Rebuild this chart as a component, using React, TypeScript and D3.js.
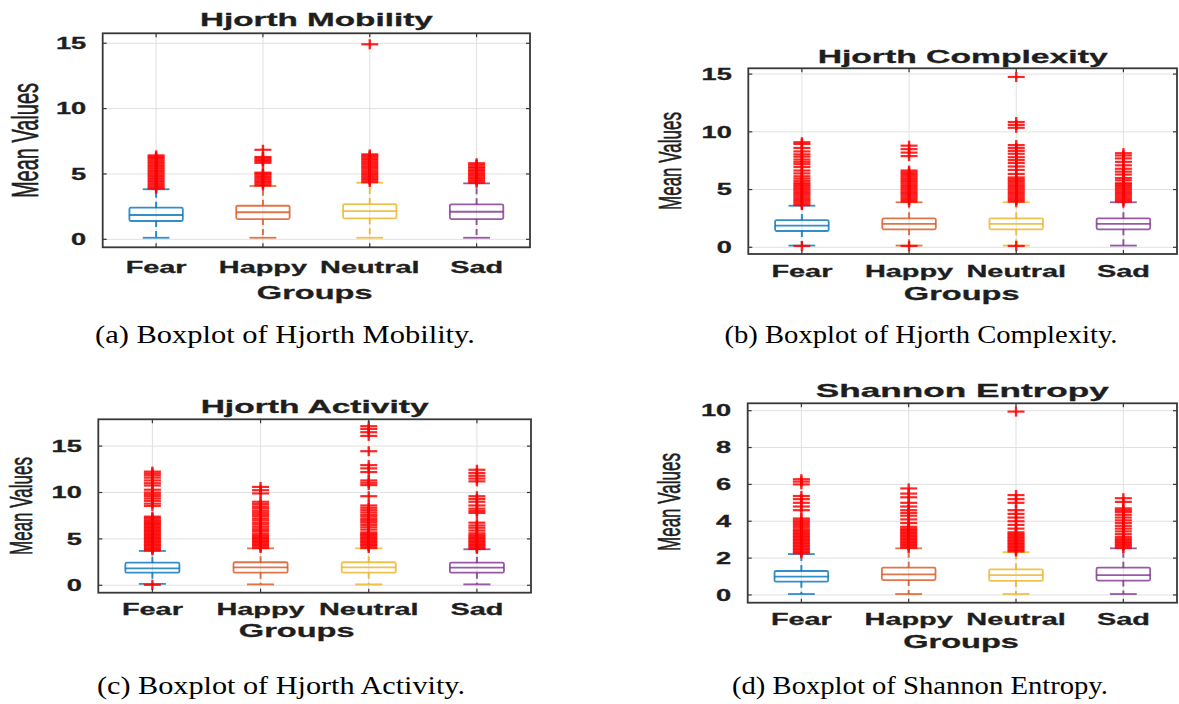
import React, { useEffect, useRef } from 'react';
import * as d3 from 'd3';

const groups = ['Fear', 'Happy', 'Neutral', 'Sad'];
const groupColors = ['#0072BD', '#D95319', '#EDB120', '#7E2F8E'];

// [lower whisker, q1, median, q3, upper whisker] for each group
const mobilityStats = [
  [0.12, 1.40, 1.86, 2.42, 3.83],
  [0.12, 1.55, 2.07, 2.57, 4.08],
  [0.12, 1.61, 2.16, 2.70, 4.33],
  [0.12, 1.55, 2.11, 2.68, 4.28]
];
const mobilityOutliers = [
  [3.88, 3.97, 4.1, 4.22, 4.35, 4.47, 4.6, 4.72, 4.85, 4.97, 5.1, 5.22, 5.35, 5.47, 5.6, 5.72, 5.85, 5.97, 6.1, 6.22, 6.32, 6.42],
  [4.12, 4.25, 4.38, 4.5, 4.63, 4.76, 4.9, 5.02, 5.1, 5.85, 5.97, 6.08, 6.2, 6.3, 6.85],
  [4.37, 4.5, 4.62, 4.75, 4.88, 5.0, 5.13, 5.26, 5.4, 5.52, 5.65, 5.78, 5.9, 6.03, 6.15, 6.28, 6.4, 6.5, 14.92],
  [4.32, 4.45, 4.58, 4.7, 4.83, 4.95, 5.06, 5.2, 5.3, 5.45, 5.55, 5.7, 5.82]
];
const mobilityTicks = [0, 5, 10, 15];

const complexityStats = [
  [0.15, 1.41, 1.87, 2.36, 3.6],
  [0.15, 1.56, 2.02, 2.51, 3.9],
  [0.15, 1.56, 2.02, 2.51, 3.9],
  [0.15, 1.56, 2.02, 2.51, 3.9]
];
const complexityOutliers = [
  [0.12, 3.65, 3.8, 3.95, 4.1, 4.25, 4.4, 4.55, 4.7, 4.85, 5.0, 5.15, 5.3, 5.45, 5.55, 5.75, 5.95, 6.15, 6.4, 6.65, 6.95, 7.2, 7.4, 7.6, 7.85, 8.05, 8.3, 8.6, 8.95, 9.1],
  [0.12, 3.95, 4.1, 4.25, 4.4, 4.55, 4.7, 4.85, 5.0, 5.15, 5.3, 5.45, 5.6, 5.75, 5.9, 6.05, 6.2, 6.35, 6.5, 6.65, 7.9, 8.2, 8.5, 8.8],
  [0.12, 3.95, 4.1, 4.25, 4.4, 4.55, 4.7, 4.85, 5.0, 5.15, 5.3, 5.45, 5.6, 5.75, 5.9, 6.05, 6.35, 6.7, 7.0, 7.3, 7.55, 7.8, 8.1, 8.35, 8.6, 8.85, 10.35, 10.6, 10.85, 14.75],
  [3.95, 4.1, 4.25, 4.4, 4.55, 4.7, 4.85, 5.0, 5.15, 5.3, 5.45, 5.55, 5.8, 6.0, 6.3, 6.55, 6.8, 7.1, 7.4, 7.7, 7.95, 8.15]
];
const complexityTicks = [0, 5, 10, 15];

const activityStats = [
  [0.15, 1.36, 1.83, 2.44, 3.7],
  [0.1, 1.36, 1.94, 2.48, 3.98],
  [0.1, 1.36, 1.94, 2.48, 3.98],
  [0.1, 1.36, 1.90, 2.44, 3.88]
];
const activityOutliers = [
  [0.05, 3.75, 3.9, 4.05, 4.2, 4.35, 4.5, 4.65, 4.8, 4.95, 5.1, 5.25, 5.4, 5.55, 5.7, 5.85, 6.0, 6.15, 6.3, 6.45, 6.6, 6.75, 6.88, 7.05, 7.25, 7.4, 8.55, 8.8, 9.1, 9.35, 9.6, 9.8, 10.0, 10.3, 10.75, 11.0, 11.3, 11.6, 11.85, 12.05, 12.25],
  [4.02, 4.2, 4.35, 4.5, 4.65, 4.8, 4.95, 5.1, 5.25, 5.4, 5.6, 5.85, 6.05, 6.3, 6.55, 6.75, 7.0, 7.2, 7.45, 7.65, 7.85, 8.05, 8.3, 8.5, 8.75, 9.0, 9.9, 10.25, 10.6],
  [4.02, 4.2, 4.35, 4.5, 4.65, 4.8, 4.95, 5.1, 5.25, 5.4, 5.55, 5.7, 6.0, 6.25, 6.5, 6.75, 6.95, 7.15, 7.4, 7.6, 7.85, 8.1, 8.35, 8.6, 9.6, 10.8, 11.05, 11.3, 12.2, 12.6, 12.95, 14.45, 16.1, 16.5, 16.85, 17.15],
  [3.92, 4.05, 4.2, 4.35, 4.5, 4.65, 4.8, 4.95, 5.1, 5.25, 5.4, 5.6, 5.9, 6.2, 6.45, 6.75, 7.8, 8.0, 8.25, 8.6, 9.0, 9.3, 9.6, 11.2, 11.5, 11.8, 12.1, 12.45]
];
const activityTicks = [0, 5, 10, 15];

const entropyStats = [
  [0.05, 0.72, 0.99, 1.30, 2.22],
  [0.05, 0.81, 1.12, 1.48, 2.53],
  [0.05, 0.76, 1.08, 1.39, 2.32],
  [0.05, 0.78, 1.08, 1.48, 2.53]
];
const entropyOutliers = [
  [2.26, 2.34, 2.42, 2.5, 2.58, 2.66, 2.74, 2.82, 2.9, 2.98, 3.06, 3.14, 3.22, 3.3, 3.38, 3.46, 3.54, 3.65, 3.75, 3.85, 3.95, 4.05, 4.15, 4.6, 4.8, 5.0, 5.2, 5.37, 6.0, 6.15, 6.28],
  [2.56, 2.64, 2.72, 2.8, 2.88, 2.96, 3.04, 3.12, 3.2, 3.28, 3.36, 3.44, 3.52, 3.6, 3.7, 3.9, 4.1, 4.3, 4.45, 4.6, 4.8, 5.0, 5.3, 5.5, 5.78],
  [2.36, 2.44, 2.52, 2.6, 2.68, 2.76, 2.84, 2.92, 3.0, 3.08, 3.16, 3.24, 3.32, 3.4, 3.6, 3.8, 4.0, 4.2, 4.4, 4.6, 5.0, 5.2, 5.42, 9.95],
  [2.56, 2.64, 2.72, 2.8, 2.88, 2.96, 3.04, 3.15, 3.3, 3.45, 3.6, 3.75, 3.9, 4.05, 4.2, 4.35, 4.5, 4.6, 4.7, 5.05, 5.25]
];
const entropyTicks = [0, 2, 4, 6, 8, 10];

interface PanelLayout {
  left: number;
  right: number;
  top: number;
  bottom: number;
  yMin: number;
  yMax: number;
  titleY: number;
  titleWidth: number;
  tickLabelY: number;
  groupsX: number;
  groupsY: number;
  yLabelX: number;
  yLabelY: number;
  yLabelSize: number;
  captionX: number;
  captionY: number;
  captionWidth: number;
}

interface PanelProps {
  title: string;
  caption: string;
  stats: number[][];
  outliers: number[][];
  ticks: number[];
  layout: PanelLayout;
}

const SANS = '"Liberation Sans", Arial, Helvetica, sans-serif';
const SERIF = '"Liberation Serif", "Times New Roman", serif';
const TEXT = '#1e1e1e';
const SX = 1.75; // the figure was stretched horizontally

const BoxplotPanel: React.FC<PanelProps> = ({ title, caption, stats, outliers, ticks, layout }) => {
  const gRef = useRef<SVGGElement>(null);

  useEffect(() => {
    const g = d3.select(gRef.current);
    g.selectAll('*').remove();

    const { left, right, top, bottom } = layout;

    const x = d3.scaleBand<string>().domain(groups).range([left, right]).padding(0);
    const cx = (grp: string) => (x(grp) ?? 0) + x.bandwidth() / 2;
    const y = d3.scaleLinear().domain([layout.yMin, layout.yMax]).range([bottom, top]);

    const boxW = x.bandwidth() * 0.5;
    const capW = x.bandwidth() * 0.25;

    // grid
    const grid = g.append('g').attr('stroke', '#e0e0e0').attr('stroke-width', 1);
    ticks.forEach(t => {
      grid.append('line').attr('x1', left).attr('x2', right).attr('y1', y(t)).attr('y2', y(t));
    });
    groups.forEach(grp => {
      grid.append('line').attr('x1', cx(grp)).attr('x2', cx(grp)).attr('y1', top).attr('y2', bottom);
    });

    // boxes and whiskers
    groups.forEach((grp, i) => {
      const [lo, q1, med, q3, hi] = stats[i];
      const c = cx(grp);
      const col = groupColors[i];
      const bg = g.append('g')
        .attr('stroke', col)
        .attr('stroke-opacity', 0.8)
        .attr('fill', 'none');

      bg.append('line').attr('x1', c).attr('x2', c).attr('y1', y(q3)).attr('y2', y(hi))
        .attr('stroke-width', 2).attr('stroke-dasharray', '6,4');
      bg.append('line').attr('x1', c).attr('x2', c).attr('y1', y(q1)).attr('y2', y(lo))
        .attr('stroke-width', 2).attr('stroke-dasharray', '6,4');

      [lo, hi].forEach(v => {
        bg.append('line')
          .attr('x1', c - capW / 2).attr('x2', c + capW / 2)
          .attr('y1', y(v)).attr('y2', y(v))
          .attr('stroke-width', 1.8);
      });

      bg.append('rect')
        .attr('x', c - boxW / 2)
        .attr('y', y(q3))
        .attr('width', boxW)
        .attr('height', y(q1) - y(q3))
        .attr('rx', 1.5)
        .attr('stroke-width', 1.8);

      bg.append('line')
        .attr('x1', c - boxW / 2).attr('x2', c + boxW / 2)
        .attr('y1', y(med)).attr('y2', y(med))
        .attr('stroke-width', 1.8);
    });

    // outliers as '+'
    const og = g.append('g').attr('stroke', '#ff0000').attr('stroke-opacity', 0.85);
    groups.forEach((grp, i) => {
      const c = cx(grp);
      outliers[i].forEach(v => {
        const yy = y(v);
        og.append('line').attr('x1', c - 8.5).attr('x2', c + 8.5).attr('y1', yy).attr('y2', yy)
          .attr('stroke-width', 2.2);
        og.append('line').attr('x1', c).attr('x2', c).attr('y1', yy - 5).attr('y2', yy + 5)
          .attr('stroke-width', 2.4);
      });
    });

    // axes box and inward ticks
    g.append('rect')
      .attr('x', left).attr('y', top)
      .attr('width', right - left).attr('height', bottom - top)
      .attr('fill', 'none').attr('stroke', '#383838').attr('stroke-width', 1.8);

    const tk = g.append('g').attr('stroke', '#383838').attr('stroke-width', 1.2);
    ticks.forEach(t => {
      tk.append('line').attr('x1', left).attr('x2', left + 4).attr('y1', y(t)).attr('y2', y(t));
      tk.append('line').attr('x1', right - 4).attr('x2', right).attr('y1', y(t)).attr('y2', y(t));
    });
    groups.forEach(grp => {
      tk.append('line').attr('x1', cx(grp)).attr('x2', cx(grp)).attr('y1', bottom).attr('y2', bottom - 4);
      tk.append('line').attr('x1', cx(grp)).attr('x2', cx(grp)).attr('y1', top).attr('y2', top + 4);
    });

    // y tick labels
    ticks.forEach(t => {
      g.append('text')
        .attr('transform', `translate(${left - 16.5},${y(t) + 5.8}) scale(${SX - 0.05},1)`)
        .attr('text-anchor', 'end')
        .style('font-family', SANS)
        .style('font-weight', 'bold')
        .style('font-size', '16px')
        .style('fill', TEXT)
        .style('stroke', TEXT)
        .style('stroke-width', 0.3)
        .text(d3.format('d')(t));
    });

    // x tick labels
    groups.forEach(grp => {
      g.append('text')
        .attr('transform', `translate(${cx(grp)},${layout.tickLabelY}) scale(${SX},1)`)
        .attr('text-anchor', 'middle')
        .style('font-family', SANS)
        .style('font-weight', 'bold')
        .style('font-size', '16.5px')
        .style('fill', TEXT)
        .style('stroke', TEXT)
        .style('stroke-width', 0.3)
        .text(grp);
    });

    // title
    g.append('text')
      .attr('x', (left + right) / 2)
      .attr('y', layout.titleY)
      .attr('text-anchor', 'middle')
      .attr('textLength', layout.titleWidth)
      .attr('lengthAdjust', 'spacingAndGlyphs')
      .style('font-family', SANS)
      .style('font-weight', 'bold')
      .style('font-size', '18.6px')
      .style('fill', TEXT)
      .style('stroke', TEXT)
      .style('stroke-width', 0.3)
      .text(title);

    // x axis label
    g.append('text')
      .attr('transform', `translate(${layout.groupsX},${layout.groupsY}) scale(${SX},1)`)
      .attr('text-anchor', 'middle')
      .style('font-family', SANS)
      .style('font-weight', 'bold')
      .style('font-size', '18.6px')
      .style('fill', TEXT)
      .style('stroke', TEXT)
      .style('stroke-width', 0.3)
      .text('Groups');

    // y axis label (rotated, stretched)
    const capHalf = layout.yLabelSize * 0.716 * 1.8 / 2;
    g.append('text')
      .attr('transform', `translate(${layout.yLabelX + capHalf},${layout.yLabelY}) scale(1.8,1) rotate(-90)`)
      .attr('text-anchor', 'middle')
      .style('font-family', SANS)
      .style('font-size', `${layout.yLabelSize}px`)
      .style('fill', TEXT)
      .style('stroke', TEXT)
      .style('stroke-width', 0.35)
      .text('Mean Values');

    // caption
    g.append('text')
      .attr('x', layout.captionX)
      .attr('y', layout.captionY)
      .attr('text-anchor', 'middle')
      .attr('textLength', layout.captionWidth)
      .attr('lengthAdjust', 'spacingAndGlyphs')
      .style('font-family', SERIF)
      .style('font-size', '25px')
      .style('fill', '#000')
      .text(caption);
  }, [title, caption, stats, outliers, ticks, layout]);

  return <g ref={gRef} />;
};

const panels: PanelProps[] = [
  {
    title: 'Hjorth Mobility',
    caption: '(a) Boxplot of Hjorth Mobility.',
    stats: mobilityStats,
    outliers: mobilityOutliers,
    ticks: mobilityTicks,
    layout: {
      left: 102.7, right: 530, top: 33.3, bottom: 247.3, yMin: -0.61, yMax: 15.76,
      titleY: 26, titleWidth: 232.7, tickLabelY: 272.5, groupsX: 314.7, groupsY: 299.3,
      yLabelX: 25, yLabelY: 140.5, yLabelSize: 20,
      captionX: 285, captionY: 343, captionWidth: 380
    }
  },
  {
    title: 'Hjorth Complexity',
    caption: '(b) Boxplot of Hjorth Complexity.',
    stats: complexityStats,
    outliers: complexityOutliers,
    ticks: complexityTicks,
    layout: {
      left: 748.3, right: 1177, top: 68.3, bottom: 254, yMin: -0.58, yMax: 15.5,
      titleY: 63.3, titleWidth: 290, tickLabelY: 276.7, groupsX: 961.7, groupsY: 299.5,
      yLabelX: 670, yLabelY: 161, yLabelSize: 17,
      captionX: 921, captionY: 343, captionWidth: 393
    }
  },
  {
    title: 'Hjorth Activity',
    caption: '(c) Boxplot of Hjorth Activity.',
    stats: activityStats,
    outliers: activityOutliers,
    ticks: activityTicks,
    layout: {
      left: 98.3, right: 531, top: 419.3, bottom: 592.7, yMin: -0.8, yMax: 17.89,
      titleY: 413.3, titleWidth: 228, tickLabelY: 615, groupsX: 296.7, groupsY: 636.5,
      yLabelX: 21, yLabelY: 506, yLabelSize: 17,
      captionX: 281, captionY: 694, captionWidth: 368
    }
  },
  {
    title: 'Shannon Entropy',
    caption: '(d) Boxplot of Shannon Entropy.',
    stats: entropyStats,
    outliers: entropyOutliers,
    ticks: entropyTicks,
    layout: {
      left: 747.7, right: 1177, top: 403.3, bottom: 602.7, yMin: -0.42, yMax: 10.4,
      titleY: 397.3, titleWidth: 293, tickLabelY: 625, groupsX: 961, groupsY: 648.3,
      yLabelX: 669, yLabelY: 502, yLabelSize: 17,
      captionX: 920, captionY: 694.3, captionWidth: 376
    }
  }
];

const App: React.FC = () => {
  return (
    <svg
      width={1179}
      height={704}
      style={{ position: 'absolute', left: 0, top: 0, background: '#ffffff' }}
    >
      {panels.map(p => (
        <BoxplotPanel key={p.title} {...p} />
      ))}
    </svg>
  );
};

export default App;
